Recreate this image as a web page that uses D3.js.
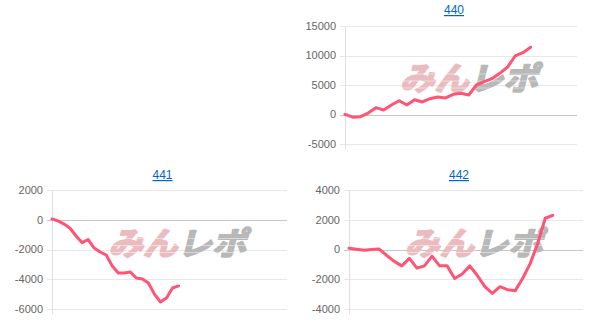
<!DOCTYPE html>
<html>
<head>
<meta charset="utf-8">
<script src="https://cdn.jsdelivr.net/npm/d3@7"></script>
<style>
  body { margin: 0; background: #fff; }
  svg { display: block; }
  .title { fill: #0066cc; text-decoration: underline; font-family: Arial, "Liberation Sans", sans-serif; font-size: 12px; }
  .tick-label { fill: #666; font-family: Arial, "Liberation Sans", sans-serif; font-size: 11px; }
</style>
</head>
<body>
<svg id="board" width="608" height="334"></svg>
<script>
// machine numbers (titles)
let names = ['440', '441', '442'];

// cumulative difference per game session
let values440 = [30, -450, -370, 250, 1160, 760, 1610, 2340, 1610, 2510, 2120, 2680, 2970, 2800, 3420, 3590, 3300, 5000, 5560, 6070, 6980, 8000, 9920, 10480, 11380];
let values441 = [50, -80, -290, -570, -1090, -1540, -1330, -1900, -2170, -2370, -3110, -3580, -3580, -3510, -3920, -3990, -4250, -5000, -5530, -5260, -4590, -4450];
let values442 = [80, 20, -50, 0, 30, -400, -800, -1100, -600, -1250, -1100, -450, -1100, -1100, -1950, -1650, -1100, -1750, -2500, -2950, -2500, -2700, -2780, -1950, -950, 400, 2100, 2300];

// number of x slots on each chart
let slots = [31, 40, 32];

// y tick labels
let ticks440 = [15000, 10000, 5000, 0, -5000];
let ticks441 = [2000, 0, -2000, -4000, -6000];
let ticks442 = [4000, 2000, 0, -2000, -4000];

let seriesList = [values440, values441, values442];
let tickList = [ticks440, ticks441, ticks442];

// plot boxes on the page
let boxes = [
  { left: 345, right: 577, top: 26, bottom: 144, titleY: 14 },
  { left: 52, right: 287, top: 190, bottom: 309, titleY: 179 },
  { left: 349, right: 583, top: 190, bottom: 309, titleY: 179 }
];

let svg = d3.select('#board');

const drawChart = function (i) {
  let box = boxes[i];
  let ticks = tickList[i];
  let data = seriesList[i];
  let g = svg.append('g');

  let x = d3.scaleLinear().domain([0, slots[i] - 1]).range([box.left, box.right]);
  let y = d3.scaleLinear().domain([d3.min(ticks), d3.max(ticks)]).range([box.bottom, box.top]);

  // grid lines
  g.selectAll('.grid').data(ticks).join('line')
    .attr('x1', box.left - 5)
    .attr('x2', box.right)
    .attr('y1', d => Math.round(y(d)) + 0.5)
    .attr('y2', d => Math.round(y(d)) + 0.5)
    .attr('stroke', d => (d === 0 ? '#c8c8c8' : '#e8e8e8'))
    .attr('stroke-width', 1);

  g.append('line')
    .attr('x1', box.left + 0.5).attr('x2', box.left + 0.5)
    .attr('y1', box.top).attr('y2', box.bottom + 5)
    .attr('stroke', '#e0e0e0');

  g.selectAll('.tick-label').data(ticks).join('text')
    .attr('class', 'tick-label')
    .attr('x', box.left - 9)
    .attr('y', d => y(d))
    .attr('dy', '0.35em')
    .attr('text-anchor', 'end')
    .text(d => d);

  // watermark
  let cx = (box.left + box.right) / 2 + 8;
  let cy = (box.top + box.bottom) / 2 - 7;
  let wm = g.append('text')
    .attr('transform', `translate(${cx},${cy + 12}) skewX(-14)`)
    .attr('text-anchor', 'middle')
    .attr('font-family', '"Noto Sans CJK JP", sans-serif')
    .attr('font-weight', 'bold')
    .attr('font-size', 32)
    .attr('stroke-width', 2)
    .attr('stroke-linejoin', 'round')
    .attr('textLength', 138)
    .attr('lengthAdjust', 'spacingAndGlyphs');
  wm.append('tspan').attr('fill', '#ebbcbf').attr('stroke', '#ebbcbf').text('みん');
  wm.append('tspan').attr('fill', '#b8b8b8').attr('stroke', '#b8b8b8').text('レポ');

  // streaks across the watermark
  g.selectAll('.streak').data([0, 1, 2]).join('line')
    .attr('x1', cx - 75).attr('x2', cx + 75)
    .attr('y1', d => cy - 4 + d * 7)
    .attr('y2', d => cy - 4 + d * 7)
    .attr('stroke', '#fff')
    .attr('stroke-opacity', 0.45)
    .attr('stroke-width', 1);

  let line = d3.line()
    .x((d, k) => x(k))
    .y(d => y(d));

  g.append('path')
    .datum(data)
    .attr('d', line)
    .attr('fill', 'none')
    .attr('stroke', '#ff5474')
    .attr('stroke-width', 3)
    .attr('stroke-linejoin', 'round')
    .attr('stroke-linecap', 'round');

  g.append('text')
    .attr('class', 'title')
    .attr('x', (box.left + box.right) / 2 - 7)
    .attr('y', box.titleY)
    .attr('text-anchor', 'middle')
    .text(names[i]);
};

names.forEach((d, i) => drawChart(i));
</script>
</body>
</html>
